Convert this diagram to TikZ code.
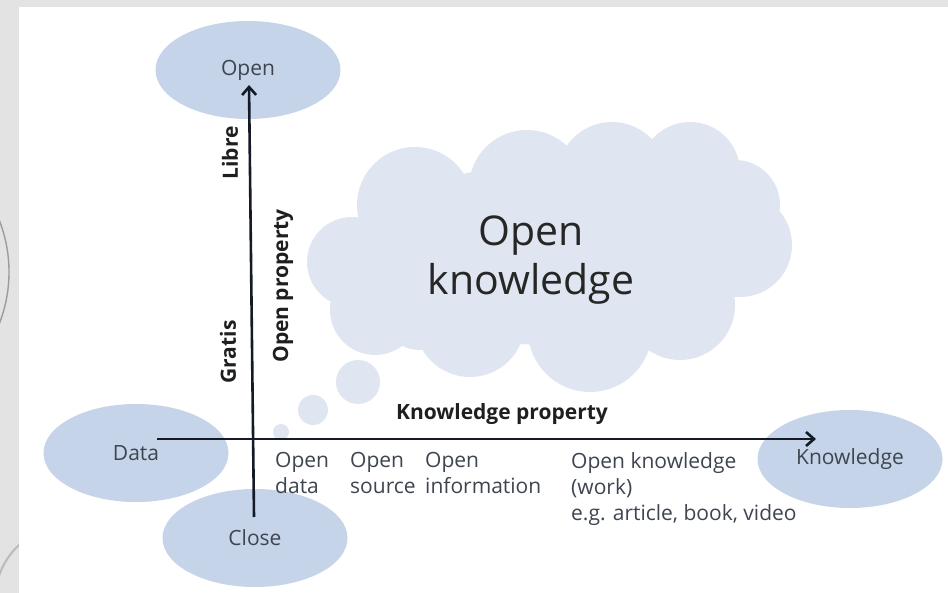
\documentclass[tikz,border=0pt]{standalone}
\usepackage{fontspec}
\setmainfont{Open Sans}
\usetikzlibrary{arrows.meta,shapes.geometric}
\definecolor{bggrey}{HTML}{E3E3E3}
\definecolor{ellblue}{HTML}{C5D4E9}
\definecolor{cloudc}{HTML}{DFE6F1}
\definecolor{lblgrey}{HTML}{3E4550}
\definecolor{axisc}{HTML}{141A26}
\definecolor{decogrey}{HTML}{9C9C9C}
\begin{document}
\begin{tikzpicture}[x=1pt,y=-1pt,
  ell/.style={ellipse, fill=ellblue, minimum width=185pt, minimum height=98pt,
    inner sep=0pt, text=lblgrey, font=\fontsize{21}{25}\selectfont},
  axisline/.style={draw=axisc, line width=2.6pt,
    -{Straight Barb[length=8pt,width=14pt]}},
  boldlbl/.style={font=\fontsize{21}{25}\selectfont\bfseries, text=black!88, inner sep=0pt},
  lbl/.style={font=\fontsize{21}{26}\selectfont, text=lblgrey, align=left,
    anchor=north west, inner sep=0pt},
  bigtxt/.style={font=\fontsize{41}{49}\selectfont, text=black!85, align=center, inner sep=0pt}]
\useasboundingbox (0,0) rectangle (948,593);
% slide frame
\fill[bggrey] (0,0) rectangle (948,593);
\begin{scope}
  \clip (0,0) rectangle (19,593);
  \draw[decogrey, line width=1.4pt] (-133,272) circle[radius=142pt];
  \draw[decogrey!70, line width=2pt] (70,600) circle[radius=75pt];
\end{scope}
\fill[white] (19,7) rectangle (948,593);
% cloud
\fill[cloudc]
  (352,262) circle[radius=45pt]
  (375,310) circle[radius=45pt]
  (420,310) circle[radius=40pt]
  (415,205) circle[radius=58pt]
  (527,188) circle[radius=58pt]
  (612,177) circle[radius=55pt]
  (690,172) circle[radius=50pt]
  (735,205) circle[radius=45pt]
  (740,245) circle[radius=52pt]
  (680,305) circle[radius=55pt]
  (590,330) circle[radius=62pt]
  (470,322) circle[radius=55pt]
  (550,255) ellipse[x radius=200pt, y radius=90pt];
% thought bubbles
\fill[cloudc] (358,382) circle[radius=22pt];
\fill[cloudc] (313,410) circle[radius=15pt];
\fill[cloudc] (281,432) circle[radius=8pt];
\node[bigtxt] (ok) at (531,260) {Open\\knowledge};
% ellipses
\node[ell] (open) at (248,70) {Open};
\node[ell] (data) at (136,453) {Data};
\node[ell] (close) at (255,538) {Close};
\node[ell] (know) at (850,459) {Knowledge};
% axes
\coordinate (ybot) at (254,517);
\coordinate (ytip) at (249,85);
\coordinate (xl) at (157,439);
\coordinate (xr) at (816,439);
\draw[axisline] (ybot) -- (ytip);
\draw[axisline] (xl) -- (xr);
% axis labels
\node[boldlbl, rotate=90] (libre) at (230,153) {Libre};
\node[boldlbl, rotate=90] (gratis) at (228,352) {Gratis};
\node[boldlbl, rotate=90] (oprop) at (283,286) {Open property};
\node[boldlbl] (kprop) at (502,414) {Knowledge property};
% categories
\node[lbl] (odata) at (275,452) {Open\\data};
\node[lbl] (osrc) at (350,452) {Open\\source};
\node[lbl] (oinfo) at (425,452) {Open\\information};
\node[lbl] (oknow) at (571,452) {Open knowledge\\(work)\\e.g. article, book, video};
\end{tikzpicture}
\end{document}
